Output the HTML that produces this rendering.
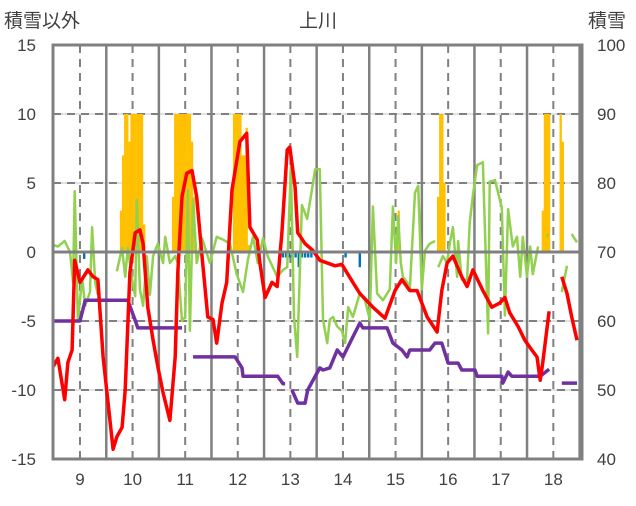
<!DOCTYPE html>
<html><head><meta charset="utf-8"><style>
body{margin:0;background:#fff;}
svg text{font-family:"Liberation Sans","Noto Sans CJK JP",sans-serif;fill:#404040;}
</style></head><body>
<svg id="chart" width="636" height="501" xmlns="http://www.w3.org/2000/svg">
<g id="grid"></g>
<g id="marks"></g>
<g id="axes"></g>
<text x="318" y="27" font-size="19" text-anchor="middle">上川</text>
<text x="4" y="27" font-size="19">積雪以外</text>
<text x="588" y="27" font-size="19">積雪</text>
</svg>
<script>
const xTicks=[9,10,11,12,13,14,15,16,17,18];
const leftTicks=[15,10,5,0,-5,-10,-15];
const rightTicks=[100,90,80,70,60,50,40];
const redX=[8.49,8.58,8.71,8.77,8.85,8.90,9.0,9.15,9.25,9.34,9.44,9.63,9.70,9.80,9.86,9.95,10.05,10.14,10.20,10.29,10.39,10.48,10.58,10.71,10.81,10.86,10.94,11.03,11.13,11.22,11.32,11.43,11.53,11.60,11.70,11.79,11.89,12.04,12.17,12.23,12.37,12.42,12.52,12.65,12.75,12.84,12.94,12.99,13.09,13.14,13.28,13.43,13.56,13.85,13.98,14.19,14.32,14.57,14.80,14.99,15.12,15.27,15.41,15.60,15.79,15.88,15.98,16.09,16.26,16.36,16.47,16.66,16.83,16.98,17.08,17.17,17.33,17.46,17.59,17.69,17.75,17.80,17.92,18.0,18.16,18.26,18.35,18.45];
const redY=[-8.3,-7.7,-10.7,-8,-7.1,-0.6,-2.2,-1.3,-1.8,-2,-7.6,-14.3,-13.4,-12.7,-10,-1.5,1.4,1.6,0.6,-4,-6.4,-8.3,-10.2,-12.2,-7.6,-1.5,4,5.7,5.9,4,-0.3,-4.7,-4.9,-6.6,-3.7,-2.2,4.5,8,8.6,1.8,0.9,-0.8,-3.3,-2.2,-2.5,1.4,7.4,7.6,4.7,1.4,0.6,0.1,-0.6,-1,-0.9,-2.2,-3,-4,-4.8,-2.8,-2,-2.8,-2.8,-4.7,-5.8,-2.8,-0.8,-0.3,-1.8,-2.5,-1.3,-2.8,-4,-3.7,-3.3,-4.4,-5.4,-6.4,-7.1,-7.6,-9.3,-8,-4.3,null,-1.8,-3,-4.7,-6.4];
const greenX=[8.49,8.58,8.71,8.81,8.87,8.90,8.96,9.04,9.10,9.19,9.23,9.29,9.34,9.45,9.57,9.62,9.70,9.80,9.86,9.91,10.0,10.05,10.08,10.14,10.20,10.27,10.33,10.39,10.48,10.58,10.62,10.71,10.81,10.86,10.94,11.00,11.05,11.09,11.15,11.22,11.32,11.47,11.60,11.72,11.85,11.98,12.10,12.19,12.29,12.38,12.48,12.57,12.75,12.86,12.94,13.01,13.07,13.13,13.22,13.32,13.41,13.47,13.56,13.62,13.70,13.75,13.81,13.89,13.98,14.04,14.10,14.19,14.32,14.42,14.51,14.57,14.65,14.76,14.89,14.95,15.01,15.05,15.10,15.14,15.22,15.27,15.37,15.43,15.50,15.56,15.65,15.75,15.78,15.81,15.90,15.98,16.03,16.09,16.17,16.19,16.26,16.36,16.41,16.47,16.55,16.66,16.76,16.79,16.89,17.02,17.08,17.14,17.23,17.31,17.37,17.42,17.50,17.56,17.61,17.71,17.80,17.88,17.90,18.0,18.16,18.26,18.30,18.35,18.45];
const greenY=[0.5,0.4,0.8,0,-2.2,4.4,-5.0,-1.9,-3.9,-2.9,1.8,-2.2,-3.1,null,0.4,null,-1.4,0.3,-1.8,0.3,-2.2,-3.2,3.8,-2.7,-3.9,-0.3,-3.1,-0.3,0.6,-0.8,1.1,-0.8,-0.3,-0.8,-5.0,-4.7,4.5,-5.7,3.8,-0.8,1.0,-0.8,1.1,0.9,0.6,-1.6,-2.9,-0.6,1.1,-0.8,1.0,-0.3,-1.8,-1.3,-1.1,6.2,-4.7,-7.6,3.4,2.4,4.5,6.0,6.0,-4.9,-6.6,-4.9,-4.7,-5.4,-5.7,-6.6,-4.0,-4.7,-3.0,-3.5,-4.9,3.3,-3.0,-3.5,-2.7,3.3,-0.8,2.6,-0.8,-1.8,-2.2,-2.7,4.3,4.8,-2.7,0.1,0.6,0.8,null,-1.1,-0.3,-0.8,0.6,1.8,-1.8,0.8,-2.0,-2.0,2.1,4.1,6.3,6.5,-5.9,5.1,5.2,3.2,-4.6,3.1,0.4,1.1,-1.8,1.1,-1.8,0.4,-1.6,0.4,null,1.1,1.3,null,-2.9,-1.0,null,1.3,0.7];
const purpleX=[8.49,9.0,9.10,9.91,10.05,10.10,10.94,10.95,11.15,11.95,12.08,12.10,12.76,12.86,12.90,12.95,13.03,13.14,13.28,13.33,13.43,13.56,13.62,13.75,13.89,14.00,14.19,14.32,14.38,14.84,14.95,15.12,15.22,15.27,15.65,15.75,15.88,16.00,16.19,16.26,16.51,16.55,17.02,17.04,17.14,17.21,17.75,17.92,18.0,18.16,18.45];
const purpleY=[60,60,63,63,60.1,59,59,null,54.8,54.8,53.2,52,52,50.9,50.9,null,50,48.1,48.1,50,51.4,53.2,52.9,53.2,55.8,54.8,57.7,59.7,59,59,56.8,55.8,54.8,55.8,55.8,56.8,56.8,53.9,53.9,52.9,52.9,52,52,51,52.6,52,52,53,null,51,51];
const snowX=[9.78,9.82,9.86,9.90,9.94,9.98,10.02,10.06,10.10,10.14,10.18,10.22,10.77,10.81,10.85,10.89,10.93,10.97,11.01,11.05,11.09,11.13,11.17,11.93,11.97,12.01,12.05,12.09,12.13,12.17,12.21,15.06,15.81,15.85,15.89,15.93,17.80,17.84,17.88,17.92,18.14,18.18];
const snowY=[76,84,90,90,86,90,90,90,90,90,90,74,78,90,90,90,90,90,90,90,90,86,78,90,90,90,90,84,84,88,71,76,78,90,90,80,76,90,90,90,90,86];
const rainX=[9.08,12.86,12.92,12.98,13.04,13.10,13.16,13.22,13.28,13.34,13.40,14.05,14.32];
const rainY=[-0.5,-0.4,-0.4,-0.4,-0.4,-0.4,-1.1,-0.4,-0.4,-0.4,-0.4,-0.4,-1.1];

const L=53,R=582,T=45,B=459;
const X0=8.487,X1=18.545;
const sx=v=>L+(v-X0)/(X1-X0)*(R-L);
const syL=v=>T+(15-v)/30*(B-T);
const syR=v=>T+(100-v)/60*(B-T);
const NS="http://www.w3.org/2000/svg";
function mk(tag,parent,attrs){const e=document.createElementNS(NS,tag);for(const k in attrs)e.setAttribute(k,attrs[k]);parent.appendChild(e);return e;}
const grid=document.getElementById('grid'),marks=document.getElementById('marks'),axes=document.getElementById('axes');
// horizontal gridlines
leftTicks.forEach(t=>{if(t===15||t===-15||t===0)return;
 const y=syL(t);
 const g=mk('line',grid,{x1:L,x2:R,y1:y,y2:y,stroke:'#d9d9d9','stroke-width':1.5});
 
 
 const d=mk('line',grid,{x1:L,x2:R,y1:y,y2:y,stroke:'#808080','stroke-width':2,'stroke-dasharray':'8 6'});
 
 
});
// vertical lines
xTicks.forEach(t=>{
 const x=sx(t);
 const d=mk('line',grid,{x1:x,x2:x,y1:T,y2:B,stroke:'#808080','stroke-width':2,'stroke-dasharray':'8 6'});
 
 
 const xs=sx(t+0.5);
 if(xs<R-2){const s=mk('line',grid,{x1:xs,x2:xs,y1:T,y2:B,stroke:'#808080','stroke-width':2.5});
 
 }
});
// snow bars
const bw=2.3;
snowX.forEach((v,i)=>{const y=syR(snowY[i]);const b=mk('rect',marks,{x:sx(v)-bw/2,y:y,width:bw,height:Math.max(0,syL(0)-y),fill:'#ffc000'});
 
 });
rainX.forEach((v,i)=>{const y0=syL(0);const b=mk('rect',marks,{x:sx(v)-1.2,y:y0,width:2.4,height:syL(rainY[i])-y0,fill:'#0070c0'});
 
 });
function path(xs,ys,sy){let d='',pen=false;xs.forEach((x,i)=>{const y=ys[i];if(y===null){pen=false;return;}d+=(pen?'L':'M')+sx(x).toFixed(1)+','+sy(y).toFixed(1);pen=true;});return d;}
const pg=mk('path',marks,{d:path(greenX,greenY,syL),fill:'none',stroke:'#92d050','stroke-width':2.5,'stroke-linejoin':'round'});


const pp=mk('path',marks,{d:path(purpleX,purpleY,syR),fill:'none',stroke:'#7030a0','stroke-width':3.5,'stroke-linejoin':'round'});


const pr=mk('path',marks,{d:path(redX,redY,syL),fill:'none',stroke:'#ff0000','stroke-width':3.5,'stroke-linejoin':'round'});


// zero axis and frame
const z=mk('line',axes,{x1:L,x2:R,y1:syL(0),y2:syL(0),stroke:'#808080','stroke-width':3});


const f=mk('rect',axes,{x:L,y:T,width:R-L,height:B-T,fill:'none',stroke:'#808080','stroke-width':3});


leftTicks.forEach(t=>{const e=mk('text',axes,{x:36,y:syL(t)+6,'font-size':17,'text-anchor':'end'});e.textContent=t;
 
 });
rightTicks.forEach(t=>{const e=mk('text',axes,{x:597,y:syR(t)+6,'font-size':17});e.textContent=t;
 
 });
xTicks.forEach(t=>{const e=mk('text',axes,{x:sx(t),y:485,'font-size':17,'text-anchor':'middle'});e.textContent=t;
 
 });
</script>
</body></html>
